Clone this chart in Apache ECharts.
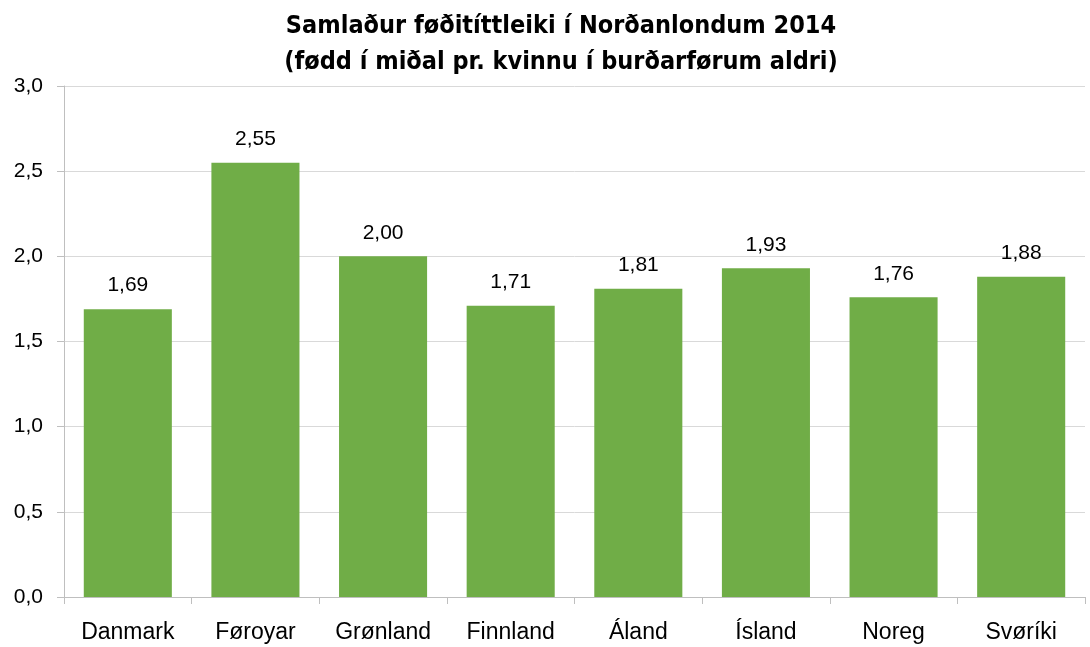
<!DOCTYPE html>
<html>
<head>
<meta charset="utf-8">
<script src="https://cdn.jsdelivr.net/npm/echarts@6/dist/echarts.min.js"></script>
<style>
  html, body { margin: 0; padding: 0; background: #fff; }
  #chart { width: 1090px; height: 647px; }
</style>
</head>
<body>
<div id="chart"></div>
<script>
var countries = ['Danmark', 'Føroyar', 'Grønland', 'Finnland', 'Áland', 'Ísland', 'Noreg', 'Svøríki'];
var fertility = [1.69, 2.55, 2.00, 1.71, 1.81, 1.93, 1.76, 1.88];
var titleLines = ['Samlaður føðitíttleiki í Norðanlondum 2014', '(fødd í miðal pr. kvinnu í burðarførum aldri)'];

function comma(v, digits) {
    return Number(v).toFixed(digits).replace('.', ',');
}

var font = '"Liberation Sans", Arial, sans-serif';

var chart = echarts.init(document.getElementById('chart'));
chart.setOption({
    animation: false,
    title: {
        text: titleLines.join('\n'),
        left: 556,
        top: 3,
        textAlign: 'center',
        textStyle: {
            fontFamily: '"DejaVu Sans Condensed", "Liberation Sans", sans-serif',
            fontWeight: 'bold',
            fontSize: 25,
            lineHeight: 36,
            color: '#000'
        }
    },
    grid: {
        left: 64,
        right: 5,
        top: 86,
        bottom: 50
    },
    xAxis: {
        type: 'category',
        data: countries,
        axisLine: { lineStyle: { color: '#bfbfbf', width: 1 } },
        axisTick: { show: true, length: 7, lineStyle: { color: '#bfbfbf' } },
        axisLabel: {
            margin: 24,
            fontFamily: font,
            fontSize: 23,
            color: '#000'
        }
    },
    yAxis: {
        type: 'value',
        min: 0,
        max: 3,
        interval: 0.5,
        axisLine: { show: true, lineStyle: { color: '#bfbfbf' } },
        axisTick: { show: true, length: 7, lineStyle: { color: '#bfbfbf' } },
        splitLine: { lineStyle: { color: '#d9d9d9', width: 1 } },
        axisLabel: {
            margin: 21,
            fontFamily: font,
            fontSize: 21,
            color: '#000',
            formatter: function (v) { return comma(v, 1); }
        }
    },
    series: [{
        type: 'bar',
        data: fertility,
        barWidth: '69%',
        itemStyle: { color: '#70ad47' },
        label: {
            show: true,
            position: 'top',
            distance: 13,
            fontFamily: font,
            fontSize: 21,
            color: '#000',
            formatter: function (p) { return comma(p.value, 2); }
        }
    }]
});
</script>
</body>
</html>
